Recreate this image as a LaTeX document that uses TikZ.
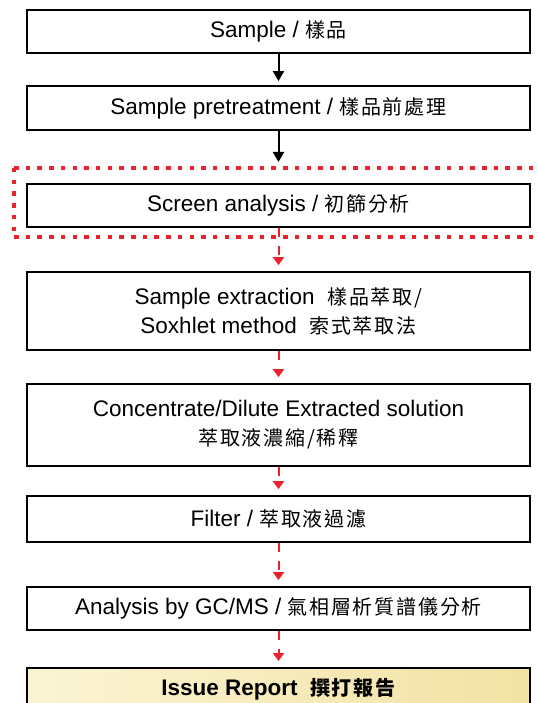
\documentclass[tikz,border=0pt]{standalone}
\usepackage{fontspec}
\setmainfont{Liberation Sans}
\newfontfamily\cjk[LetterSpace=9]{Noto Sans CJK TC}
\usetikzlibrary{arrows.meta}
\newcommand\zhtxt[1]{{\cjk\fontsize{20}{24}\selectfont #1}}
\definecolor{dotred}{HTML}{E8232B}
\definecolor{repL}{HTML}{FBF4D4}
\definecolor{repR}{HTML}{F2E2A4}
\tikzset{
  stepbox/.style={draw=black, line width=1.8pt, minimum width=503pt, inner sep=0pt, align=center,
     font=\fontsize{22.5}{29}\selectfont},
  blackarrow/.style={draw=black, line width=2pt, -{Triangle[width=11pt,length=10pt]}, shorten >=4pt},
  redarrow/.style={draw=dotred, line width=2pt, dash pattern=on 9pt off 9pt,
     -{Triangle[width=11pt,length=8pt]}, shorten >=6pt},
  reddots/.style={draw=dotred, line width=4.5pt, dash pattern=on 4.5pt off 7.2pt}
}
\begin{document}
\begin{tikzpicture}[x=1pt,y=-1pt]
\useasboundingbox (0,0) rectangle (538,703);
\fill[white] (0,0) rectangle (538,703);
\node[stepbox, minimum height=43pt] (b1) at (278.5,31.5) {Sample / \zhtxt{樣品}};
\node[stepbox, minimum height=44pt] (b2) at (278.5,108) {Sample pretreatment / \zhtxt{樣品前處理}};
\node[stepbox, minimum height=43pt] (b3) at (278.5,205.5) {Screen analysis / \zhtxt{初篩分析}};
\node[stepbox, minimum height=78pt] (b4) at (278.5,311) {Sample extraction \ \zhtxt{樣品萃取/}\\Soxhlet method \ \zhtxt{索式萃取法}};
\node[stepbox, minimum height=82pt] (b5) at (278.5,425) {Concentrate/Dilute Extracted solution\\\zhtxt{萃取液濃縮/稀釋}};
\node[stepbox, minimum height=46pt] (b6) at (278.5,519) {Filter / \zhtxt{萃取液過濾}};
\node[stepbox, minimum height=43pt] (b7) at (278.5,608.5) {Analysis by GC/MS / \zhtxt{氣相層析質譜儀分析}};
\node[stepbox, minimum height=45pt, left color=repL, right color=repR, anchor=north,
      text depth=0pt, font=\fontsize{22.5}{29}\selectfont\bfseries] (b8) at (278.5,667)
      {\raisebox{6pt}{Issue Report \ {\cjk\fontsize{20}{24}\selectfont\bfseries 撰打報告}}};
\coordinate (c3) at (278.5,166);
\draw[reddots] (14,168) -- (550,168);
\draw[reddots] (14,237) -- (550,237);
\draw[reddots] (14,168) -- (14,237);
\draw[blackarrow] (b1) -- (b2);
\draw[blackarrow] (b2) -- (c3);
\draw[redarrow] (b3) -- (b4);
\draw[redarrow] (b4) -- (b5);
\draw[redarrow] (b5) -- (b6);
\draw[redarrow] (b6) -- (b7);
\draw[redarrow] (b7) -- (b8);
\end{tikzpicture}
\end{document}
